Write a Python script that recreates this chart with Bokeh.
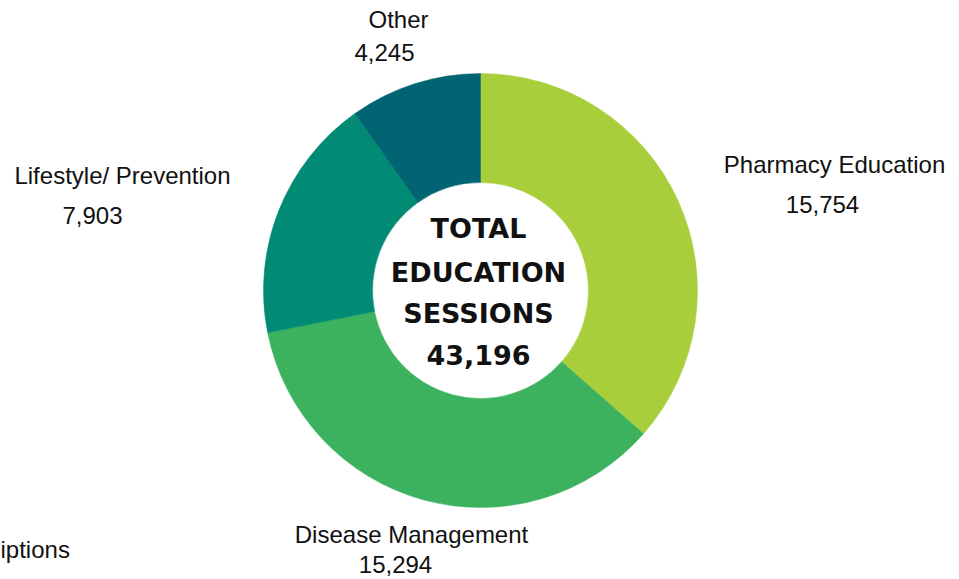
from math import pi
from bokeh.plotting import figure
from bokeh.models import Range1d, ColumnDataSource
from bokeh.core.properties import value
from bokeh.embed import file_html
from bokeh.resources import INLINE

# ---- data ----
categories = ["Pharmacy Education", "Disease Management", "Lifestyle/ Prevention", "Other"]
sessions = [15754, 15294, 7903, 4245]
colors = ["#A8CF3B", "#3CB25E", "#018B74", "#016472"]
center_lines = ["TOTAL", "EDUCATION", "SESSIONS", "43,196"]
cut_label = "iptions"

# ---- layout (image pixel coordinates; data y = H - image y) ----
W, H = 959, 579
cx, cy = 480, H - 290
r_out, r_in = 217, 108
dy = 8  # text baseline correction

label_pos = [(834, 172, 822, 212), (411, 542, 395, 572), (122, 183, 92, 223), (398, 27, 384, 60)]

p = figure(width=W, height=H, output_backend="svg", toolbar_location=None,
           x_range=Range1d(0, W), y_range=Range1d(0, H), min_border=0)
p.axis.visible = False
p.grid.visible = False
p.outline_line_color = None
p.background_fill_color = "white"
p.border_fill_color = "white"

total = sum(sessions)
starts, ends = [], []
cum = 0
for v in sessions:
    starts.append(pi / 2 - 2 * pi * cum / total)
    cum += v
    ends.append(pi / 2 - 2 * pi * cum / total)

src = ColumnDataSource(dict(start=starts, end=ends, color=colors,
                            x=[cx] * len(sessions), y=[cy] * len(sessions)))
p.annular_wedge(x="x", y="y", inner_radius=r_in, outer_radius=r_out,
                start_angle="start", end_angle="end", direction="clock",
                fill_color="color", line_color="color", line_width=0.5, source=src)

# category labels
lx = [lp[0] for lp in label_pos]
ly = [H - lp[1] + dy for lp in label_pos]
vx = [lp[2] for lp in label_pos]
vy = [H - lp[3] + dy for lp in label_pos]
p.text(x=lx, y=ly, text=categories, text_align="center", text_baseline="alphabetic",
       text_font=value("Liberation Sans"), text_font_size="24px", text_color="#111111")
p.text(x=vx, y=vy, text=[f"{v:,}" for v in sessions], text_align="center",
       text_baseline="alphabetic", text_font=value("Liberation Sans"),
       text_font_size="24px", text_color="#111111")
p.text(x=[0], y=[H - 557 + dy], text=[cut_label], text_align="left", text_baseline="alphabetic",
       text_font=value("Liberation Sans"), text_font_size="24px", text_color="#111111")

# center text
center_y = [H - b + dy + 1 for b in (237, 281, 322, 363)]
p.text(x=[478] * 4, y=center_y, text=center_lines, text_align="center",
       text_baseline="alphabetic", text_font=value("DejaVu Sans"), text_font_style="bold",
       text_font_size="27px", text_color="#111111")

open("out.html", "w").write(file_html(p, INLINE))
